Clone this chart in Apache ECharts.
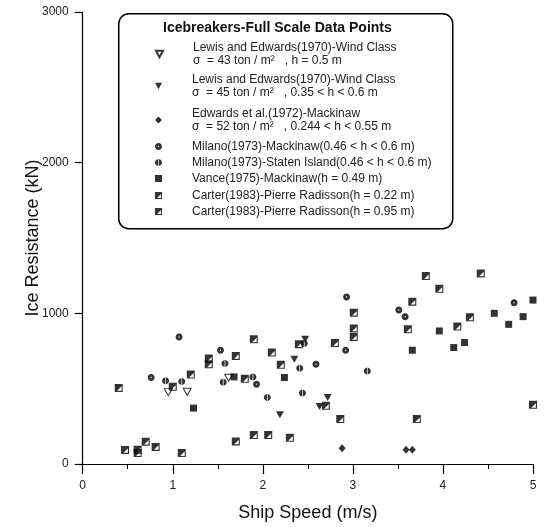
<!DOCTYPE html>
<html><head><meta charset="utf-8">
<script src="https://cdn.jsdelivr.net/npm/echarts@6/dist/echarts.min.js"></script>
<style>html,body{margin:0;padding:0;background:#fff}#c{width:545px;height:527px}</style>
</head><body><div id="c"></div>
<script>
// ---- data (Ship Speed m/s, Ice Resistance kN) ----
const xTicks = [0, 1, 2, 3, 4, 5];
const yTicks = [0, 1000, 2000, 3000];
const lewis43 = [[0.95,477],[1.16,479],[1.62,572]];
const lewis45 = [[2.19,327],[2.35,695],[2.47,828],[2.63,382],[2.72,442]];
const edwards72 = [[2.88,104],[3.59,95],[3.66,95]];
const milanoMackinaw = [[0.76,574],[1.07,843],[1.53,755],[1.93,530],[2.59,662],[2.92,755],[2.93,1108],[3.51,1022],[3.58,978],[4.79,1071]];
const milanoStaten = [[0.92,552],[1.10,548],[1.56,543],[1.58,667],[1.89,578],[2.05,441],[2.41,636],[2.44,472],[2.46,799],[3.16,618]];
const vance75 = [[1.23,371],[1.68,578],[2.24,574],[3.66,755],[3.96,883],[4.12,773],[4.24,806],[4.57,1000],[4.73,927],[4.89,978],[5.0,1088]];
const carter022 = [[0.47,93],[0.61,95],[0.61,73],[0.70,148],[0.81,113],[1.10,73],[1.70,150],[1.90,192],[2.06,192],[2.30,174],[2.86,298],[3.71,298],[5.0,393]];
const carter095 = [[0.40,505],[1.0,512],[1.20,594],[1.40,700],[1.40,662],[1.70,717],[1.80,565],[1.90,828],[2.10,740],[2.20,658],[2.40,795],[2.70,386],[2.80,803],[3.01,1004],[3.01,900],[3.01,843],[3.61,894],[3.66,1077],[3.81,1247],[3.96,1163],[4.16,912],[4.30,974],[4.42,1265]];
const legendTitle = 'Icebreakers-Full Scale Data Points';
const seriesNames = ['lewis43','lewis45','edwards72','milanoMackinaw','milanoStaten','vance75','carter022','carter095'];
const legendLabels = [
  'Lewis and Edwards(1970)-Wind Class\nσ  = 43 ton / m²   , h = 0.5 m',
  'Lewis and Edwards(1970)-Wind Class\nσ  = 45 ton / m²   , 0.35 < h < 0.6 m',
  'Edwards et al.(1972)-Mackinaw\nσ  = 52 ton / m²   , 0.244 < h < 0.55 m',
  'Milano(1973)-Mackinaw(0.46 < h < 0.6 m)',
  'Milano(1973)-Staten Island(0.46 < h < 0.6 m)',
  'Vance(1975)-Mackinaw(h = 0.49 m)',
  'Carter(1983)-Pierre Radisson(h = 0.22 m)',
  'Carter(1983)-Pierre Radisson(h = 0.95 m)'
];
const seriesData = [lewis43, lewis45, edwards72, milanoMackinaw, milanoStaten, vance75, carter022, carter095];

// ---- styles ----
const FONT = 'Liberation Sans, Arial, sans-serif';
const TRI = 'path://M0,0 L10,0 L5,9 Z';
const RING = 'path://M5,0 C7.76,0 10,2.24 10,5 C10,7.76 7.76,10 5,10 C2.24,10 0,7.76 0,5 C0,2.24 2.24,0 5,0 Z M5,4 C4.45,4 4,4.45 4,5 C4,5.55 4.45,6 5,6 C5.55,6 6,5.55 6,5 C6,4.45 5.55,4 5,4 Z';
const HALF = 'path://M4.5,0.05 C1.9,0.35 0,2.45 0,5 C0,7.55 1.9,9.65 4.5,9.95 Z M5.5,0.05 L5.5,9.95 C8.1,9.65 10,7.55 10,5 C10,2.45 8.1,0.35 5.5,0.05 Z';
const CARTER = 'path://M0,0 L10,0 L10,10 L0,10 Z M8.6,3 L3,8.6 L8.6,8.6 Z';
const styles = [
  {symbol: TRI, size: [8,7], itemStyle: {color: '#fff', borderColor: '#000', borderWidth: 1}},
  {symbol: TRI, size: [8,7], itemStyle: {color: '#000'}},
  {symbol: 'diamond', size: [7,8], itemStyle: {color: '#000'}},
  {symbol: RING, size: 7, itemStyle: {color: '#000'}},
  {symbol: HALF, size: 7, itemStyle: {color: '#000'}},
  {symbol: 'rect', size: 7, itemStyle: {color: '#000'}},
  {symbol: CARTER, size: 8, itemStyle: {color: '#000'}},
  {symbol: CARTER, size: 8, itemStyle: {color: '#000'}}
];
const legendTops = [41, 73, 107, 140, 156, 172, 189, 205];

const chart = echarts.init(document.getElementById('c'), null, {renderer: 'canvas'});
chart.setOption({
  animation: false,
  backgroundColor: '#fff',
  grid: {left: 82.7, right: 12, top: 12, bottom: 62, containLabel: false},
  xAxis: {
    type: 'value', min: xTicks[0], max: xTicks[xTicks.length-1], interval: 1,
    name: 'Ship Speed (m/s)', nameLocation: 'middle', nameGap: 40,
    nameTextStyle: {fontSize: 18, fontFamily: FONT, color: '#111'},
    axisLine: {lineStyle: {color: '#000', width: 1.2}},
    axisTick: {inside: false, length: 10, lineStyle: {color: '#000', width: 1.2}},
    minorTick: {show: true, splitNumber: 2, length: 5, lineStyle: {color: '#000', width: 1}},
    axisLabel: {margin: 16, fontSize: 12, fontFamily: FONT, color: '#222'},
    splitLine: {show: false}
  },
  yAxis: {
    type: 'value', min: yTicks[0], max: yTicks[yTicks.length-1], interval: 1000,
    name: 'Ice Resistance (kN)', nameLocation: 'middle', nameGap: 41, nameMoveOverlap: false,
    nameTextStyle: {fontSize: 18, fontFamily: FONT, color: '#111'},
    axisLine: {show: true, lineStyle: {color: '#000', width: 1.2}},
    axisTick: {show: true, length: 8, lineStyle: {color: '#000', width: 1.2}},
    axisLabel: {margin: 14, fontSize: 12, fontFamily: FONT, color: '#222', formatter: v => String(v)},
    splitLine: {show: false}
  },
  legend: seriesNames.map((n, i) => ({
    data: [n], left: 155, top: legendTops[i], orient: 'vertical', padding: 0,
    itemWidth: 7, itemHeight: 7, itemGap: 0, selectedMode: false,
    formatter: () => legendLabels[i],
    textStyle: {fontSize: 12, lineHeight: 13, fontFamily: FONT, color: '#222', padding: [0,0,0,25]}
  })),
  graphic: [
    {type: 'rect', left: 118, top: 13, shape: {width: 334, height: 215, r: 10},
     style: {fill: 'rgba(0,0,0,0)', stroke: '#000', lineWidth: 1.5}, z: 1},
    {type: 'text', left: 163, top: 21,
     style: {text: legendTitle, font: 'bold 14px ' + FONT, fill: '#111'}, z: 2}
  ],
  series: seriesNames.map((n, i) => ({
    name: n, type: 'scatter', data: seriesData[i],
    symbol: styles[i].symbol, symbolSize: styles[i].size,
    itemStyle: styles[i].itemStyle, z: 3
  }))
});
</script></body></html>
